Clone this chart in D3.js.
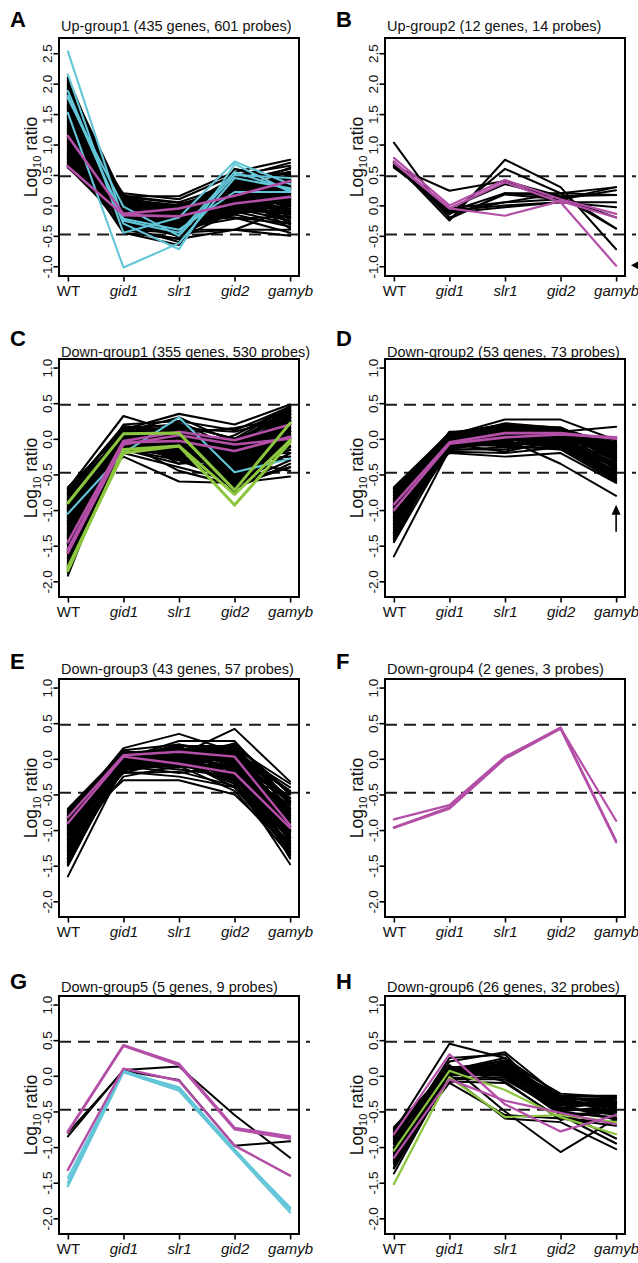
<!DOCTYPE html>
<html>
<head>
<meta charset="utf-8">
<script src="https://cdn.jsdelivr.net/npm/d3@7"></script>
<style>
  html, body { margin: 0; padding: 0; background: #fff; }
  svg { display: block; font-family: "Liberation Sans", Arial, Helvetica, sans-serif; }
</style>
</head>
<body>
<svg id="chart" width="638" height="1263"></svg>
<script>
// ---- shared axis content ----
const categories = ["WT", "gid1", "slr1", "gid2", "gamyb"];
const ticksUp = [-1.0, -0.5, 0.0, 0.5, 1.0, 1.5, 2.0, 2.5];
const ticksDown = [-2.0, -1.5, -1.0, -0.5, 0.0, 0.5, 1.0];
const cutoffs = [0.477, -0.477]; // log10(3) fold-change thresholds

// ---- Up-group1 profiles (WT, gid1, slr1, gid2, gamyb) ----
const upGroup1Black = [
  [2.10,-0.10,-0.30,0.20,0.10],[2.05,-0.20,-0.40,0.30,0.50],[2.00,0.05,-0.20,0.10,0.30],
  [1.95,-0.30,-0.50,0.00,-0.20],[1.90,0.10,-0.10,0.40,0.60],[1.85,-0.15,-0.35,0.15,0.00],
  [1.80,-0.40,-0.55,-0.10,-0.30],[1.76,0.00,-0.15,0.25,0.40],[1.72,-0.25,-0.45,0.05,0.20],
  [1.68,0.15,0.05,0.35,0.55],[1.64,-0.05,-0.25,-0.05,-0.10],[1.60,-0.35,-0.60,0.20,0.35],
  [1.56,0.05,-0.05,0.45,0.70],[1.52,-0.20,-0.30,0.10,0.05],[1.48,-0.10,-0.40,-0.15,-0.35],
  [1.44,0.00,-0.20,0.30,0.25],[1.40,-0.30,-0.35,0.00,0.15],[1.36,0.10,0.00,0.20,0.45],
  [1.32,-0.15,-0.25,-0.20,-0.45],[1.28,-0.05,-0.10,0.15,0.30],[1.24,-0.25,-0.50,0.25,0.10],
  [1.20,0.05,-0.15,0.05,0.50],[1.16,-0.40,-0.45,-0.40,-0.05],[1.12,-0.10,-0.20,0.35,0.20],
  [1.08,0.00,-0.30,-0.05,-0.25],[1.04,-0.20,-0.05,0.10,0.40],[1.00,0.20,0.10,0.50,0.65],
  [0.96,-0.15,-0.35,0.00,-0.15],[0.92,-0.05,-0.15,0.20,0.10],[0.88,-0.30,-0.25,-0.10,0.00],
  [0.84,0.05,-0.05,0.40,0.35],[0.80,-0.20,-0.40,0.15,0.25],[0.76,-0.10,-0.10,-0.20,-0.30],
  [0.72,0.00,-0.20,0.05,0.15],[0.68,-0.25,-0.30,0.30,0.45],[0.64,-0.05,0.00,0.10,-0.05],
  [0.62,-0.15,-0.25,0.25,0.05],[1.98,-0.45,-0.65,0.60,0.40],[1.70,-0.35,-0.40,-0.40,-0.50],
  [1.30,0.15,0.15,0.55,0.75],[0.90,-0.45,-0.55,-0.40,-0.40],[1.50,-0.10,-0.15,0.40,0.55],
  [1.10,-0.20,-0.35,0.20,0.00],[0.75,-0.30,-0.45,0.00,0.20],[1.85,0.00,-0.30,0.35,0.15],
  [1.25,-0.05,-0.05,-0.10,0.30],[0.70,0.10,-0.10,0.15,0.35],[1.60,-0.20,-0.20,0.25,-0.15],
  [2.08,-0.35,-0.45,0.45,0.30],[2.02,0.12,-0.05,0.05,-0.10],[1.97,-0.08,-0.28,-0.15,0.15],
  [1.93,-0.22,-0.12,0.28,0.62],[1.88,0.02,-0.38,0.12,-0.28],[1.83,-0.32,-0.22,0.38,0.08],
  [1.78,0.08,-0.48,-0.02,0.48],[1.74,-0.12,-0.08,0.22,-0.38],[1.66,-0.28,-0.32,0.48,0.28],
  [1.62,0.18,-0.18,-0.12,0.12],[1.58,-0.02,-0.42,0.32,-0.20],[1.54,-0.38,-0.02,0.08,0.42],
  [1.46,0.12,-0.28,0.18,-0.02],[1.42,-0.18,-0.48,-0.08,0.32],[1.38,-0.42,-0.18,0.42,0.52],
  [1.34,0.02,-0.38,-0.22,-0.18],[1.26,-0.32,0.02,0.28,0.22],[1.22,0.08,-0.22,0.42,-0.32],
  [1.18,-0.12,-0.52,0.12,0.38],[1.14,0.14,-0.08,-0.02,0.08],[1.06,-0.38,-0.28,0.22,0.48],
  [1.02,-0.02,-0.42,-0.12,-0.08],[0.98,0.10,-0.02,0.32,0.28],[0.94,-0.28,-0.48,0.08,-0.22],
  [0.86,-0.08,-0.32,0.42,0.12],[0.82,0.14,0.04,-0.08,0.42],[0.78,-0.22,-0.18,0.18,-0.12],
  [0.74,-0.38,-0.38,0.38,0.30],[0.66,0.04,-0.28,-0.12,0.22],[0.63,-0.28,-0.08,0.02,0.50],
  [1.92,-0.15,-0.25,0.08,0.28],[1.45,-0.25,-0.12,0.15,0.05],[1.05,0.05,-0.25,0.25,0.18],
  [0.85,-0.12,-0.22,0.05,0.32],[1.65,0.05,0.00,0.18,0.22],
  [2.04,-0.18,-0.32,0.12,0.22],[1.99,0.00,-0.12,0.22,0.38],[1.91,-0.28,-0.42,0.32,0.02],
  [1.82,-0.08,-0.18,-0.08,0.26],[1.73,-0.18,-0.36,0.38,0.42],[1.63,0.08,-0.30,0.02,-0.06],
  [1.57,-0.30,-0.10,0.14,0.18],[1.47,-0.02,-0.34,0.26,0.36],[1.39,0.06,-0.16,-0.06,0.10],
  [1.31,-0.22,-0.40,0.34,0.26],[1.21,-0.06,-0.24,0.06,0.46],[1.13,0.02,-0.12,0.28,-0.12],
  [1.03,-0.26,-0.36,-0.02,0.14],[0.95,0.06,-0.20,0.14,0.32],[0.87,-0.16,-0.30,0.30,0.04],
  [0.79,0.00,-0.08,0.22,0.40],[0.71,-0.20,-0.34,-0.06,0.18],[0.65,-0.06,-0.16,0.36,0.24],
  [1.77,-0.04,-0.26,0.04,0.06],[1.19,-0.14,-0.06,0.40,0.30]
];
const upGroup1Cyan = [
  [2.53,-0.25,-0.45,0.55,0.25],[2.15,-0.45,-0.20,0.72,0.35],[1.88,-0.30,-0.72,0.68,0.22],
  [1.76,-0.02,-0.50,0.50,0.45],[1.52,-1.02,-0.62,0.45,0.28],[1.80,-0.22,-0.40,0.22,0.22]
];
const upGroup1Magenta = [
  [1.14,-0.14,-0.05,0.16,0.40],[0.64,-0.16,-0.18,0.03,0.14]
];

// ---- Up-group2 profiles ----
const upGroup2Black = [
  [1.03,-0.22,0.20,0.20,0.30],[0.65,0.24,0.40,0.15,-0.38],[0.70,-0.25,0.75,0.30,-0.72],
  [0.65,-0.15,0.60,0.20,-0.38],[0.68,-0.10,0.20,0.15,0.17],[0.62,-0.05,0.05,0.10,0.25],
  [0.70,-0.08,0.00,0.05,0.05],[0.66,-0.12,-0.03,0.05,-0.03],[0.72,-0.20,0.18,0.10,0.30],
  [0.64,-0.05,0.35,0.12,-0.20],[0.70,-0.12,0.05,0.20,0.17]
];
const upGroup2Magenta = [
  [0.78,0.00,0.42,0.10,-0.14],[0.72,-0.05,0.38,0.05,-0.99],[0.70,-0.05,-0.17,0.07,-0.20]
];

// ---- Down-group1 profiles ----
const downGroup1Black = [
  [-0.68,0.10,0.05,-0.10,0.40],[-0.72,0.00,-0.05,-0.30,0.20],[-0.76,0.15,0.20,0.00,0.45],
  [-0.80,-0.05,-0.15,-0.50,0.10],[-0.84,0.05,0.10,-0.20,0.30],[-0.88,-0.15,-0.30,-0.60,-0.20],
  [-0.92,0.10,0.00,-0.05,0.35],[-0.96,-0.10,-0.10,-0.40,0.00],[-1.00,0.20,0.25,-0.15,0.25],
  [-1.04,0.00,-0.20,-0.70,-0.35],[-1.08,-0.20,0.05,-0.25,0.15],[-1.12,0.05,-0.05,-0.45,0.40],
  [-1.16,-0.10,-0.25,-0.55,-0.10],[-1.20,0.12,0.15,0.10,0.30],[-1.24,-0.05,-0.10,-0.35,0.05],
  [-1.28,0.00,0.00,-0.65,0.20],[-1.32,-0.15,-0.35,-0.30,-0.25],[-1.36,0.08,0.10,-0.10,0.45],
  [-1.40,-0.08,-0.15,-0.50,0.10],[-1.44,0.03,0.05,-0.20,0.35],[-1.48,-0.20,-0.40,-0.60,-0.40],
  [-1.52,0.10,-0.05,-0.40,0.25],[-1.56,-0.02,0.20,0.00,0.30],[-1.60,-0.12,-0.20,-0.70,0.00],
  [-1.64,0.05,0.00,-0.25,0.40],[-1.68,-0.05,-0.30,-0.45,-0.15],[-1.72,0.15,0.10,-0.05,0.20],
  [-1.76,-0.18,-0.10,-0.55,0.15],[-1.80,0.00,0.05,-0.35,0.35],[-1.85,-0.10,-0.25,-0.65,-0.30],
  [-1.92,0.05,-0.05,-0.15,0.10],[-0.70,0.32,0.08,0.15,0.30],[-1.00,0.13,0.35,0.20,0.48],
  [-0.95,-0.25,-0.60,-0.62,-0.53],[-1.30,0.10,0.30,-0.05,0.40],[-1.10,-0.05,-0.45,-0.65,-0.20],
  [-0.85,0.00,-0.20,0.05,0.45],[-1.50,-0.15,0.00,-0.30,-0.45],[-1.25,0.05,0.15,-0.60,0.25],
  [-1.70,0.10,-0.15,-0.20,0.30],[-0.78,-0.12,0.00,-0.40,0.05],[-1.15,0.08,-0.35,-0.10,0.20],
  [-1.45,-0.03,0.12,-0.75,0.45],[-1.62,0.02,-0.08,0.00,-0.05],[-0.98,-0.08,0.05,-0.30,0.38],
  [-0.70,-0.08,-0.12,-0.22,0.35],[-0.74,0.18,0.12,-0.45,0.05],[-0.79,-0.18,0.02,-0.08,0.25],
  [-0.83,0.08,-0.28,-0.35,0.42],[-0.87,-0.02,0.18,-0.58,-0.05],[-0.91,0.14,-0.08,-0.28,0.12],
  [-0.94,-0.14,0.08,-0.12,0.32],[-1.02,0.04,-0.18,-0.52,0.22],[-1.06,-0.06,0.22,-0.38,-0.12],
  [-1.14,0.16,0.02,-0.18,0.38],[-1.18,-0.16,-0.22,-0.62,0.08],[-1.22,0.02,0.12,-0.42,0.28],
  [-1.26,-0.10,-0.02,-0.25,-0.30],[-1.34,0.06,-0.12,-0.48,0.15],[-1.38,-0.14,0.18,-0.15,0.35],
  [-1.42,0.12,-0.28,-0.58,0.00],[-1.46,-0.04,0.00,-0.32,0.42],[-1.54,0.08,0.08,-0.52,0.18],
  [-1.58,-0.18,-0.15,-0.22,-0.20],[-1.66,0.00,0.15,-0.42,0.30],[-1.74,-0.08,-0.05,-0.60,0.05],
  [-1.78,0.12,0.00,-0.28,0.38],[-1.88,-0.03,-0.12,-0.48,0.22],[-0.75,0.05,-0.05,-0.65,-0.40],
  [-1.35,-0.10,0.25,0.12,0.45],[-1.05,0.10,-0.10,-0.35,0.28],[-1.48,0.02,-0.20,-0.10,0.12],
  [-0.82,-0.05,0.12,-0.50,0.20],[-1.62,0.06,0.05,-0.68,0.34],[-1.20,-0.02,-0.06,-0.20,0.02],
  [-0.71,0.02,0.06,-0.46,0.14],[-0.81,-0.10,-0.18,-0.26,0.38],[-0.89,0.06,0.14,-0.64,0.02],
  [-0.99,-0.06,-0.06,-0.16,0.26],[-1.09,0.10,0.10,-0.44,0.44],[-1.17,-0.12,-0.26,-0.32,-0.16],
  [-1.27,0.04,0.04,-0.56,0.32],[-1.37,-0.02,-0.16,-0.06,0.18],[-1.47,0.12,0.16,-0.38,0.06],
  [-1.57,-0.08,-0.04,-0.58,0.40],[-1.67,0.04,-0.22,-0.24,0.24],[-1.77,-0.02,0.12,-0.46,-0.10],
  [-1.83,0.08,-0.02,-0.12,0.34],[-0.77,-0.04,0.02,-0.34,0.10],[-0.97,0.02,-0.10,-0.54,0.30],
  [-1.19,-0.06,0.08,-0.04,0.42],[-1.39,0.06,-0.08,-0.62,0.16],[-1.59,-0.12,0.06,-0.30,0.28],
  [-1.31,0.00,0.18,-0.20,-0.06],[-0.93,0.08,-0.14,-0.42,0.36]
];
const downGroup1Green = [
  [-0.90,0.07,0.08,-0.72,0.22],[-1.85,-0.15,-0.10,-0.93,-0.05],[-1.80,-0.20,-0.10,-0.78,-0.02]
];
const downGroup1Cyan = [
  [-1.05,-0.20,0.30,-0.47,-0.28]
];
const downGroup1Magenta = [
  [-1.45,-0.03,0.10,-0.02,0.20],[-1.55,-0.05,-0.03,-0.17,0.03],[-1.60,-0.08,0.05,-0.08,0.00]
];

// ---- Down-group2 profiles ----
const downGroup2Black = [
  [-0.68,0.08,0.20,0.10,-0.05],[-0.72,-0.02,0.05,0.00,-0.30],[-0.76,0.05,0.15,0.12,-0.15],
  [-0.80,-0.10,-0.05,-0.10,-0.45],[-0.84,0.00,0.10,0.05,-0.10],[-0.88,-0.15,-0.15,-0.05,-0.55],
  [-0.92,0.03,0.22,0.15,-0.25],[-0.96,-0.05,0.00,0.02,-0.40],[-1.00,0.10,0.12,0.08,-0.05],
  [-1.04,-0.08,-0.10,-0.15,-0.60],[-1.08,0.02,0.05,0.10,-0.20],[-1.12,-0.12,0.08,-0.05,-0.35],
  [-1.16,0.06,0.18,0.12,-0.12],[-1.20,-0.03,-0.02,0.00,-0.50],[-1.24,0.00,0.10,0.06,-0.28],
  [-1.28,-0.18,-0.20,-0.12,-0.45],[-1.32,0.04,0.15,0.14,-0.08],[-1.36,-0.06,0.03,-0.03,-0.38],
  [-1.40,0.01,0.06,0.04,-0.18],[-1.45,-0.10,-0.08,-0.08,-0.52],[-0.70,-0.20,-0.25,-0.20,-0.62],
  [-1.65,-0.15,0.00,-0.35,-0.80],[-0.85,0.05,0.27,0.27,-0.02],[-1.10,-0.10,0.10,0.10,0.17],
  [-0.95,0.07,0.02,0.05,-0.22],[-1.30,-0.04,0.12,0.11,-0.32],[-0.78,-0.07,-0.18,-0.02,-0.48],
  [-1.18,0.02,0.20,0.13,-0.15],[-0.90,-0.12,0.04,-0.08,-0.58],[-1.38,0.05,-0.12,0.07,-0.26],
  [-1.02,-0.01,0.14,0.03,-0.42],[-0.74,0.09,0.08,0.12,-0.10],[-1.25,-0.14,-0.05,-0.10,-0.55],
  [-1.42,0.00,0.18,0.09,-0.05],[-0.82,-0.04,0.01,-0.15,-0.35],
  [-0.70,0.02,0.12,0.06,-0.20],[-0.75,-0.12,0.00,-0.08,-0.52],[-0.79,0.06,0.18,0.14,-0.08],
  [-0.83,-0.06,-0.08,0.00,-0.40],[-0.87,0.04,0.08,0.08,-0.28],[-0.91,-0.16,-0.12,-0.12,-0.60],
  [-0.94,0.08,0.16,0.10,-0.12],[-0.98,-0.02,0.04,-0.04,-0.46],[-1.03,0.05,0.20,0.16,-0.18],
  [-1.07,-0.09,-0.06,-0.06,-0.36],[-1.11,0.03,0.12,0.04,-0.06],[-1.14,-0.14,0.00,-0.10,-0.56],
  [-1.19,0.07,0.08,0.12,-0.24],[-1.22,-0.05,0.14,0.02,-0.42],[-1.27,0.01,-0.04,0.08,-0.14],
  [-1.31,-0.11,0.10,-0.06,-0.50],[-1.35,0.06,0.20,0.10,-0.30],[-1.39,-0.02,-0.10,0.00,-0.46],
  [-1.43,0.03,0.08,0.06,-0.10],[-0.73,-0.04,0.06,0.02,-0.34],[-0.88,0.09,0.10,0.16,-0.20],
  [-1.05,-0.06,0.16,0.06,-0.48],[-1.21,0.04,-0.06,-0.02,-0.38],[-0.96,0.00,0.06,0.10,-0.02],
  [-1.33,-0.08,0.02,0.00,-0.58],[-0.80,0.01,0.12,0.04,-0.26],[-1.15,0.05,0.04,0.14,-0.44],
  [-1.00,-0.10,0.18,-0.02,-0.16]
];
const downGroup2Magenta = [
  [-0.92,-0.05,0.08,0.08,0.00],[-1.00,-0.07,0.02,0.06,0.02]
];

// ---- Down-group3 profiles ----
const downGroup3Black = [
  [-0.70,0.10,0.05,0.15,-0.35],[-0.74,-0.05,-0.10,-0.20,-0.90],[-0.78,0.05,0.15,0.05,-0.60],
  [-0.82,-0.15,-0.05,-0.35,-1.20],[-0.86,0.00,0.10,0.20,-0.50],[-0.90,-0.10,-0.20,-0.10,-1.05],
  [-0.94,0.12,0.20,0.00,-0.75],[-0.98,-0.20,0.00,-0.40,-1.30],[-1.02,0.02,0.08,0.10,-0.45],
  [-1.06,-0.08,-0.15,-0.25,-1.15],[-1.10,0.08,0.12,-0.05,-0.85],[-1.14,-0.12,0.02,-0.30,-1.00],
  [-1.18,0.04,0.18,0.18,-0.65],[-1.22,-0.25,-0.10,-0.45,-1.35],[-1.26,0.00,0.05,-0.15,-0.95],
  [-1.30,-0.05,0.10,0.08,-0.55],[-1.34,0.06,-0.05,-0.20,-1.25],[-1.38,-0.15,0.15,0.02,-0.80],
  [-1.42,0.03,0.00,-0.35,-1.10],[-1.46,-0.08,0.08,0.12,-0.70],[-1.50,-0.02,-0.12,-0.10,-1.40],
  [-1.65,-0.10,0.05,-0.30,-1.48],[-0.80,0.15,0.35,0.10,-0.40],[-1.00,-0.30,-0.30,-0.50,-1.25],
  [-0.88,0.05,0.05,0.42,-0.32],[-1.20,-0.18,-0.25,-0.40,-1.30],[-0.76,0.00,0.25,0.25,-0.60],
  [-1.12,0.10,0.00,0.05,-0.90],[-1.36,-0.05,-0.08,-0.20,-1.05],[-0.96,0.08,0.14,0.00,-0.75],
  [-1.28,-0.12,0.06,-0.12,-1.15],[-1.44,0.02,0.12,0.15,-0.62],[-0.72,-0.10,0.02,-0.30,-1.00],
  [-1.08,0.05,-0.02,0.22,-0.48],[-1.24,-0.06,0.16,-0.05,-0.85],[-0.92,-0.20,-0.18,-0.38,-1.18],
  [-1.40,0.07,0.04,-0.25,-1.35],[-1.04,0.00,0.20,0.08,-0.55],
  [-0.72,0.06,0.10,-0.05,-0.70],[-0.76,-0.12,-0.02,0.12,-1.10],[-0.80,0.02,0.18,-0.25,-0.50],
  [-0.84,-0.06,-0.12,0.05,-0.95],[-0.88,0.10,0.06,-0.15,-1.25],[-0.92,-0.02,0.14,0.15,-0.60],
  [-0.95,-0.16,-0.08,-0.30,-0.85],[-1.00,0.06,0.02,0.00,-1.15],[-1.04,-0.10,0.16,-0.20,-0.68],
  [-1.08,0.12,-0.06,0.10,-1.00],[-1.12,-0.04,0.10,-0.35,-1.28],[-1.16,0.00,0.02,0.05,-0.78],
  [-1.20,-0.08,0.12,-0.10,-1.08],[-1.24,0.08,-0.10,0.15,-0.58],[-1.28,-0.02,0.08,-0.28,-1.22],
  [-1.32,0.04,0.16,-0.05,-0.90],[-1.36,-0.14,-0.02,0.10,-1.38],[-1.40,0.00,0.10,-0.18,-0.72],
  [-1.44,-0.06,0.00,-0.40,-1.20],[-1.48,0.04,0.06,0.00,-0.95],[-0.74,0.00,0.05,-0.12,-0.80],
  [-0.86,-0.05,0.12,0.06,-1.02],[-0.98,0.03,-0.04,-0.15,-0.65],[-1.18,-0.10,0.04,-0.22,-0.92],
  [-1.30,0.02,0.12,0.02,-1.10],[-1.05,-0.02,0.08,0.12,-0.82],[-0.82,0.08,-0.08,-0.08,-0.55],
  [-1.42,-0.04,0.14,-0.08,-1.02],
  [-0.79,-0.02,0.04,0.08,-0.78],[-0.97,0.04,0.10,-0.08,-1.12],[-1.13,-0.06,-0.04,0.02,-0.62],
  [-1.27,0.06,0.14,-0.18,-0.98],[-1.39,-0.10,0.06,0.06,-1.30],[-1.49,0.00,0.02,-0.22,-0.88],
  [-0.85,0.02,0.08,-0.02,-1.32],[-1.07,-0.14,0.12,-0.32,-0.74],[-1.23,0.10,0.02,0.18,-1.18],
  [-0.91,-0.08,-0.02,0.04,-0.45]
];
const downGroup3Magenta = [
  [-0.82,0.05,0.10,0.03,-0.93],[-0.90,0.03,-0.07,-0.20,-0.97]
];

// ---- Down-group4 profiles ----
const downGroup4Magenta = [
  [-0.85,-0.65,0.03,0.43,-0.87],[-0.97,-0.70,0.00,0.42,-1.17],[-0.96,-0.68,0.02,0.44,-1.15]
];

// ---- Down-group5 profiles ----
const downGroup5Black = [
  [-0.85,0.08,0.13,-0.55,-1.15],[-0.80,0.07,-0.06,-0.98,-0.92]
];
const downGroup5Cyan = [
  [-1.43,0.07,-0.18,-1.05,-1.85],[-1.55,0.05,-0.21,-1.07,-1.92],[-1.50,0.06,-0.16,-1.03,-1.88]
];
const downGroup5Magenta = [
  [-0.78,0.43,0.17,-0.73,-0.85],[-0.79,0.42,0.15,-0.75,-0.88],[-1.32,0.10,-0.07,-0.98,-1.40]
];

// ---- Down-group6 profiles ----
const downGroup6Black = [
  [-0.72,0.10,0.20,-0.25,-0.30],[-0.76,0.05,0.10,-0.35,-0.45],[-0.80,0.12,0.15,-0.30,-0.35],
  [-0.84,0.00,0.05,-0.45,-0.55],[-0.88,0.08,0.25,-0.28,-0.28],[-0.92,-0.05,-0.05,-0.50,-0.60],
  [-0.96,0.10,0.12,-0.38,-0.40],[-1.00,0.03,0.00,-0.55,-0.50],[-1.04,0.06,0.18,-0.32,-0.32],
  [-1.08,-0.08,-0.10,-0.60,-0.65],[-1.12,0.11,0.08,-0.42,-0.38],[-1.16,0.02,0.03,-0.48,-0.48],
  [-1.20,0.07,0.22,-0.35,-0.42],[-1.24,-0.03,-0.02,-0.52,-0.58],[-1.28,0.09,0.10,-0.40,-0.35],
  [-1.37,0.04,0.06,-0.45,-0.52],[-0.78,0.45,0.25,-0.55,-0.95],[-0.90,0.20,0.33,-0.30,-0.40],
  [-1.10,-0.10,-0.55,-0.60,-0.70],[-0.85,0.15,-0.50,-1.07,-0.60],[-1.30,0.00,-0.60,-0.65,-1.03],
  [-0.95,0.25,0.30,-0.50,-0.88],[-1.00,0.12,-0.08,-0.62,-0.45],[-1.18,0.06,0.14,-0.28,-0.30],
  [-0.82,0.02,0.02,-0.40,-0.62],[-1.22,0.10,0.16,-0.33,-0.44],
  [-0.74,0.06,0.12,-0.30,-0.38],[-0.86,0.10,0.04,-0.42,-0.32],[-0.94,0.00,0.18,-0.36,-0.48],
  [-1.02,0.08,0.06,-0.46,-0.36],[-1.06,0.04,0.10,-0.28,-0.55],[-1.14,0.12,0.00,-0.50,-0.42]
];
const downGroup6Green = [
  [-1.05,0.07,-0.20,-0.58,-0.82],[-1.52,-0.02,-0.58,-0.55,-0.65]
];
const downGroup6Magenta = [
  [-0.82,0.30,-0.40,-0.78,-0.55],[-1.15,-0.05,-0.35,-0.52,-0.68]
];

// ---- styles ----
const BLACK = "#000000", CYAN = "#62c6d8", MAGENTA = "#b44fa8", GREEN = "#8cc63f";

const panels = [
  { letter: "A", title: "Up-group1 (435 genes, 601 probes)", col: 0, row: 0, up: true,
    series: [[upGroup1Black, BLACK, 2.1], [upGroup1Cyan, CYAN, 2.1], [upGroup1Magenta, MAGENTA, 2.6]] },
  { letter: "B", title: "Up-group2 (12 genes, 14 probes)", col: 1, row: 0, up: true, marker: "left",
    series: [[upGroup2Black, BLACK, 2.0], [upGroup2Magenta, MAGENTA, 2.2]] },
  { letter: "C", title: "Down-group1 (355 genes, 530 probes)", col: 0, row: 1,
    series: [[downGroup1Black, BLACK, 2.1], [downGroup1Cyan, CYAN, 2.1], [downGroup1Magenta, MAGENTA, 2.6], [downGroup1Green, GREEN, 3.0]] },
  { letter: "D", title: "Down-group2 (53 genes, 73 probes)", col: 1, row: 1, marker: "up",
    series: [[downGroup2Black, BLACK, 2.0], [downGroup2Magenta, MAGENTA, 2.6]] },
  { letter: "E", title: "Down-group3 (43 genes, 57 probes)", col: 0, row: 2,
    series: [[downGroup3Black, BLACK, 2.0], [downGroup3Magenta, MAGENTA, 2.4]] },
  { letter: "F", title: "Down-group4 (2 genes, 3 probes)", col: 1, row: 2,
    series: [[downGroup4Magenta, MAGENTA, 2.2]] },
  { letter: "G", title: "Down-group5 (5 genes, 9 probes)", col: 0, row: 3,
    series: [[downGroup5Black, BLACK, 2.0], [downGroup5Cyan, CYAN, 2.2], [downGroup5Magenta, MAGENTA, 2.4]] },
  { letter: "H", title: "Down-group6 (26 genes, 32 probes)", col: 1, row: 3,
    series: [[downGroup6Black, BLACK, 2.0], [downGroup6Green, GREEN, 2.2], [downGroup6Magenta, MAGENTA, 2.2]] }
];

// ---- layout ----
const colLeft = [59, 385];
const rowTop = [38, 359, 679, 996];
const letterBase = [27, 346, 669, 989];
const titleBase = [31, 357, 674, 992];
const boxW = 240, boxH = 238;

const svg = d3.select("#chart");

panels.forEach(p => {
  const L = colLeft[p.col], T = rowTop[p.row], R = L + boxW, B = T + boxH;
  const x = d3.scalePoint().domain(categories).range([L, R]).padding(0.16);
  const y = d3.scaleLinear().domain(p.up ? [-1.16, 2.75] : [-2.22, 1.12]).range([B, T]);
  const g = svg.append("g");

  // threshold lines
  g.selectAll("line.cut").data(cutoffs).join("line")
    .attr("x1", L).attr("x2", R + 11)
    .attr("y1", d => y(d)).attr("y2", d => y(d))
    .attr("stroke", "#1c1c1c").attr("stroke-width", 2)
    .attr("stroke-dasharray", "12,7");

  // probe profiles
  const line = d3.line().x((d, i) => x(categories[i])).y(d => y(d));
  p.series.forEach(([rows, color, w]) => {
    g.append("g").selectAll("path").data(rows).join("path")
      .attr("d", line).attr("fill", "none")
      .attr("stroke", color).attr("stroke-width", w)
      .attr("stroke-linejoin", "round").attr("stroke-linecap", "round");
  });

  // frame
  g.append("rect").attr("x", L).attr("y", T).attr("width", boxW).attr("height", boxH)
    .attr("fill", "none").attr("stroke", "#000").attr("stroke-width", 2);

  // y axis
  const ya = g.append("g").attr("transform", `translate(${L},0)`)
    .call(d3.axisLeft(y).tickValues(p.up ? ticksUp : ticksDown).tickSize(5.5)
      .tickFormat(d => d.toFixed(1)));
  ya.select(".domain").remove();
  ya.selectAll(".tick line").attr("stroke-width", 1.6);
  ya.selectAll(".tick text")
    .attr("x", null).attr("dy", null).attr("y", null)
    .attr("text-anchor", "middle")
    .attr("transform", "translate(-7,0) rotate(-90)")
    .attr("font-size", 13.5).attr("font-family", null).attr("fill", "#111");
  ya.attr("font-family", null).attr("font-size", null);

  // x axis
  const xa = g.append("g").attr("transform", `translate(0,${B})`)
    .call(d3.axisBottom(x).tickSize(5.5));
  xa.select(".domain").remove();
  xa.selectAll(".tick line").attr("stroke-width", 1.6);
  xa.selectAll(".tick text")
    .attr("y", 20).attr("dy", null)
    .attr("font-size", 15).attr("fill", "#111")
    .attr("font-style", d => d === "WT" ? "normal" : "italic");
  xa.attr("font-family", null).attr("font-size", null);

  // y axis title
  const yt = g.append("text")
    .attr("transform", `translate(${L - 22},${(T + B) / 2}) rotate(-90)`)
    .attr("text-anchor", "middle").attr("font-size", 17.5).attr("fill", "#111");
  yt.append("tspan").text("Log");
  yt.append("tspan").text("10").attr("font-size", 11).attr("dy", 4);
  yt.append("tspan").text(" ratio").attr("dy", -4);

  // panel letter and title
  g.append("text").attr("x", L - 49).attr("y", letterBase[p.row])
    .attr("font-size", 22).attr("font-weight", "bold").text(p.letter);
  g.append("text").attr("x", L + 2).attr("y", titleBase[p.row])
    .attr("font-size", 14.5).attr("fill", "#111").text(p.title);

  // highlighted probe markers
  if (p.marker === "left") {
    const ty = y(-1.0) - 1, tx = R + 6;
    g.append("path").attr("d", `M${tx},${ty} L${tx + 11},${ty - 6} L${tx + 11},${ty + 6} Z`).attr("fill", "#000");
  }
  if (p.marker === "up") {
    const ax = x("gamyb"), tip = y(-0.8) + 9;
    g.append("line").attr("x1", ax).attr("x2", ax).attr("y1", tip + 6).attr("y2", tip + 27)
      .attr("stroke", "#000").attr("stroke-width", 1.6);
    g.append("path").attr("d", `M${ax},${tip} L${ax - 4.5},${tip + 10} L${ax + 4.5},${tip + 10} Z`).attr("fill", "#000");
  }
});
</script>
</body>
</html>
